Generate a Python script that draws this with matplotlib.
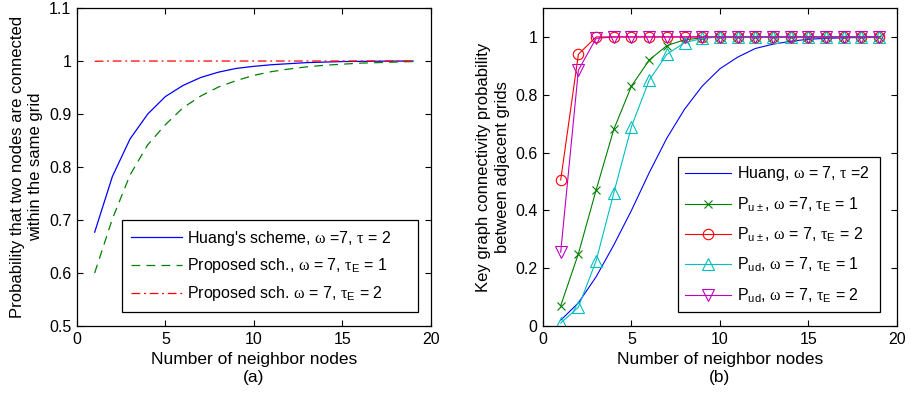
import numpy as np
import matplotlib.pyplot as plt

plt.rcParams['font.family'] = ['Liberation Sans', 'DejaVu Sans']
plt.rcParams['mathtext.fontset'] = 'custom'
plt.rcParams['mathtext.rm'] = 'Liberation Serif'
plt.rcParams['mathtext.sf'] = 'Liberation Sans'
plt.rcParams['mathtext.default'] = 'rm'
plt.rcParams['font.size'] = 11.5

# neighbor counts
n = np.arange(1, 20)

# (a) same-grid connectivity
huang_a = [0.677, 0.782, 0.853, 0.900, 0.933, 0.954, 0.969, 0.979, 0.986, 0.990,
           0.993, 0.995, 0.997, 0.998, 0.999, 0.9993, 0.9996, 0.9998, 0.9999]
prop_t1_a = [0.600, 0.702, 0.785, 0.842, 0.880, 0.912, 0.934, 0.951, 0.963, 0.973,
             0.980, 0.985, 0.989, 0.992, 0.994, 0.996, 0.997, 0.998, 0.999]
prop_t2_a = [0.9995, 1.0, 1.0, 1.0, 1.0, 1.0, 1.0, 1.0, 1.0, 1.0,
             1.0, 1.0, 1.0, 1.0, 1.0, 1.0, 1.0, 1.0, 1.0]

# (b) adjacent-grid key graph connectivity
huang_b = [0.02, 0.08, 0.17, 0.28, 0.40, 0.53, 0.65, 0.75, 0.83, 0.89,
           0.93, 0.96, 0.975, 0.985, 0.992, 0.995, 0.997, 0.998, 0.999]
pu_t1 = [0.07, 0.25, 0.47, 0.68, 0.83, 0.92, 0.97, 0.99, 0.997, 1.0,
         1.0, 1.0, 1.0, 1.0, 1.0, 1.0, 1.0, 1.0, 1.0]
pu_t2 = [0.505, 0.94, 1.0, 1.0, 1.0, 1.0, 1.0, 1.0, 1.0, 1.0,
         1.0, 1.0, 1.0, 1.0, 1.0, 1.0, 1.0, 1.0, 1.0]
pud_t1 = [0.01, 0.065, 0.225, 0.46, 0.69, 0.85, 0.94, 0.98, 0.995, 1.0,
          1.0, 1.0, 1.0, 1.0, 1.0, 1.0, 1.0, 1.0, 1.0]
pud_t2 = [0.255, 0.885, 0.995, 1.0, 1.0, 1.0, 1.0, 1.0, 1.0, 1.0,
          1.0, 1.0, 1.0, 1.0, 1.0, 1.0, 1.0, 1.0, 1.0]

fig = plt.figure(figsize=(9.12, 3.95), dpi=100)
ax1 = fig.add_axes([0.0844, 0.1747, 0.388, 0.805])
ax2 = fig.add_axes([0.5954, 0.1747, 0.388, 0.805])


def matlab_style(ax):
    ax.tick_params(direction='in', top=True, right=True, length=4, width=0.8,
                   labelsize=11.5, pad=4)
    for s in ax.spines.values():
        s.set_linewidth(0.9)


# left panel
ax1.plot(n, huang_a, color='blue', lw=0.9, label="Huang's scheme, $\\omega$ =7, $\\tau$ = 2")
ax1.plot(n, prop_t1_a, color=(0, 0.5, 0), lw=0.9, ls=(0, (7, 5)),
         label="Proposed sch., $\\omega$ = 7, $\\tau_{\\mathsf{E}}$ = 1")
ax1.plot(n, prop_t2_a, color='red', lw=0.9, ls=(0, (7, 3, 1.5, 3)),
         label="Proposed sch. $\\omega$ = 7, $\\tau_{\\mathsf{E}}$ = 2")
ax1.set_xlim(0, 20)
ax1.set_ylim(0.5, 1.1)
ax1.set_xticks([0, 5, 10, 15, 20])
ax1.set_yticks([0.5, 0.6, 0.7, 0.8, 0.9, 1.0, 1.1])
ax1.set_yticklabels(['0.5', '0.6', '0.7', '0.8', '0.9', '1', '1.1'])
ax1.set_xlabel('Number of neighbor nodes\n(a)', fontsize=12.5, linespacing=1.2, labelpad=4)
ax1.set_ylabel('Probability that two nodes are connected\nwithin the same grid',
               fontsize=12, linespacing=1.3, labelpad=4)
matlab_style(ax1)
leg1 = ax1.legend(loc='lower right', bbox_to_anchor=(0.127, 0.044, 0.836, 0.3),
                  mode='expand', borderaxespad=0,
                  fancybox=False, edgecolor='black', framealpha=1, handlelength=3.2,
                  handletextpad=0.35, borderpad=0.55, labelspacing=0.55, fontsize=11.5)
leg1.get_frame().set_linewidth(0.9)

# right panel
ax2.plot(n, huang_b, color='blue', lw=0.8, label="Huang, $\\omega$ = 7, $\\tau$ =2")
ax2.plot(n, pu_t1, color=(0, 0.5, 0), lw=0.8, marker='x', ms=5.5, mew=0.8,
         label="P$_{\\mathsf{u\\pm}}$, $\\omega$ =7, $\\tau_{\\mathsf{E}}$ = 1")
ax2.plot(n, pu_t2, color='red', lw=0.8, marker='o', ms=7.5, mew=0.8, mfc='none',
         label="P$_{\\mathsf{u\\pm}}$, $\\omega$ = 7, $\\tau_{\\mathsf{E}}$ = 2")
ax2.plot(n, pud_t1, color=(0, 0.75, 0.75), lw=0.8, marker='^', ms=8, mew=0.8, mfc='none',
         label="P$_{\\mathsf{ud}}$, $\\omega$ = 7, $\\tau_{\\mathsf{E}}$ = 1")
ax2.plot(n, pud_t2, color=(0.75, 0, 0.75), lw=0.8, marker='v', ms=8, mew=0.8, mfc='none',
         label="P$_{\\mathsf{ud}}$, $\\omega$ = 7, $\\tau_{\\mathsf{E}}$ = 2")
ax2.set_xlim(0, 20)
ax2.set_ylim(0, 1.1)
ax2.set_xticks([0, 5, 10, 15, 20])
ax2.set_yticks([0, 0.2, 0.4, 0.6, 0.8, 1.0])
ax2.set_yticklabels(['0', '0.2', '0.4', '0.6', '0.8', '1'])
ax2.set_xlabel('Number of neighbor nodes\n(b)', fontsize=12.5, linespacing=1.2, labelpad=4)
ax2.set_ylabel('Key graph connectivity probability\nbetween adjacent grids',
               fontsize=12, linespacing=1.3, labelpad=4)
matlab_style(ax2)
leg2 = ax2.legend(loc='lower right', bbox_to_anchor=(0.381, 0.044, 0.571, 0.5),
                  mode='expand', borderaxespad=0,
                  fancybox=False, edgecolor='black', framealpha=1, handlelength=2.9,
                  handletextpad=0.35, borderpad=0.45, labelspacing=0.75, fontsize=11.5)
leg2.get_frame().set_linewidth(0.9)

fig.savefig('out.png', dpi=100)
